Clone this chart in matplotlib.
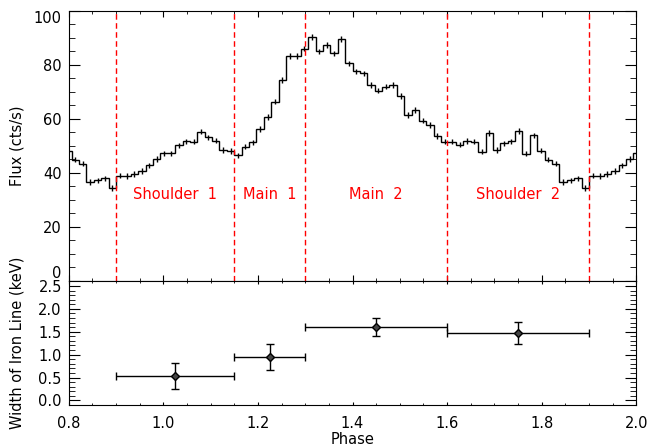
import numpy as np
import matplotlib.pyplot as plt
from matplotlib.ticker import MultipleLocator

# pulse profile: 64 phase bins per cycle, first bin starts at phase 0.9
flux = [39.0, 38.9, 39.6, 40.7, 42.8, 45.2, 47.3, 47.3,
        50.2, 51.7, 51.6, 55.3, 53.2, 52.0, 48.5, 48.2,
        46.5, 49.8, 51.3, 56.3, 60.7, 66.4, 74.4, 83.4,
        83.4, 86.0, 90.4, 85.1, 87.4, 84.3, 89.7, 80.6,
        77.7, 76.9, 72.6, 70.5, 72.0, 72.6, 68.5, 61.5,
        63.3, 59.4, 57.8, 53.7, 51.6, 51.6, 50.5, 51.8,
        51.6, 47.9, 54.8, 48.5, 51.0, 51.7, 55.6, 47.2,
        53.9, 48.3, 44.9, 43.5, 36.7, 37.3, 38.0, 34.4]
flux_err = 1.0

# phase intervals and iron line width
boundaries = [0.9, 1.15, 1.3, 1.6, 1.9]
regions = ['Shoulder  1', 'Main  1', 'Main  2', 'Shoulder  2']
phase_mid = [1.025, 1.225, 1.45, 1.75]
phase_half = [0.125, 0.075, 0.15, 0.15]
width = [0.54, 0.95, 1.60, 1.47]
width_lo = [0.30, 0.28, 0.19, 0.24]
width_hi = [0.28, 0.28, 0.20, 0.24]

plt.rcParams['font.family'] = 'DejaVu Sans'
plt.rcParams['font.size'] = 10.5

# show phase 0.8 - 2.0 (fold the cycle around)
nb = 64
vals = np.concatenate([flux[57:], flux, flux[:7]])
edges = 0.9 + np.arange(-7, 72) / nb
centers = 0.5 * (edges[:-1] + edges[1:])

fig = plt.figure(figsize=(6.49, 4.47), dpi=100)
ax1 = fig.add_axes([0.1059, 0.3714, 0.8745, 0.6040])
ax2 = fig.add_axes([0.1059, 0.0940, 0.8745, 0.2774])

ax1.stairs(vals, edges, color='black', lw=1.0)
ax1.errorbar(centers, vals, yerr=flux_err, fmt='none', ecolor='black', elinewidth=1.0)
for b in boundaries:
	ax1.axvline(b, color='red', ls=(0, (4, 2.5)), lw=1.0)
for i in range(len(regions)):
	xm = 0.5 * (boundaries[i] + boundaries[i+1])
	ax1.text(xm, 32, regions[i], color='red', ha='center', va='center')
ax1.set_xlim(0.8, 2.0)
ax1.set_ylim(0, 100)
ax1.set_ylabel('Flux (cts/s)')
ax1.yaxis.set_label_coords(-0.078, 0.5)
ax1.xaxis.set_major_locator(MultipleLocator(0.2))
ax1.xaxis.set_minor_locator(MultipleLocator(0.05))
ax1.set_yticks([0, 20, 40, 60, 80, 100])
ax1.yaxis.set_minor_locator(MultipleLocator(5))
ax1.tick_params(labelbottom=False)
# end labels sit inside the axis range, like the original
ylabs = ax1.get_yticklabels()
ylabs[0].set_va('bottom')
ylabs[-1].set_va('top')

ax2.errorbar(phase_mid, width, xerr=phase_half, yerr=[width_lo, width_hi], fmt='D',
			 color='black', ms=4.5, mfc='#444444', elinewidth=1.0, capsize=3)
ax2.set_xlim(0.8, 2.0)
ax2.set_ylim(-0.1, 2.61)
ax2.set_xlabel('Phase')
ax2.set_ylabel('Width of Iron Line (keV)')
ax2.yaxis.set_label_coords(-0.078, 0.5)
ax2.xaxis.set_label_coords(0.5, -0.215)
ax2.xaxis.set_major_locator(MultipleLocator(0.2))
ax2.xaxis.set_minor_locator(MultipleLocator(0.05))
ax2.yaxis.set_major_locator(MultipleLocator(0.5))
ax2.yaxis.set_minor_locator(MultipleLocator(0.1))
ax2.yaxis.set_major_formatter('{x:.1f}')
ax2.xaxis.set_major_formatter('{x:.1f}')

for ax, xl in [(ax1, 4), (ax2, 2.5)]:
	ax.tick_params(which='both', direction='in', top=True, right=True, pad=5)
	ax.tick_params(axis='y', which='major', length=8)
	ax.tick_params(axis='y', which='minor', length=4)
	ax.tick_params(axis='x', which='major', length=xl)
	ax.tick_params(axis='x', which='minor', length=xl / 2)
ax2.tick_params(axis='x', pad=8)

plt.savefig('out.png')
